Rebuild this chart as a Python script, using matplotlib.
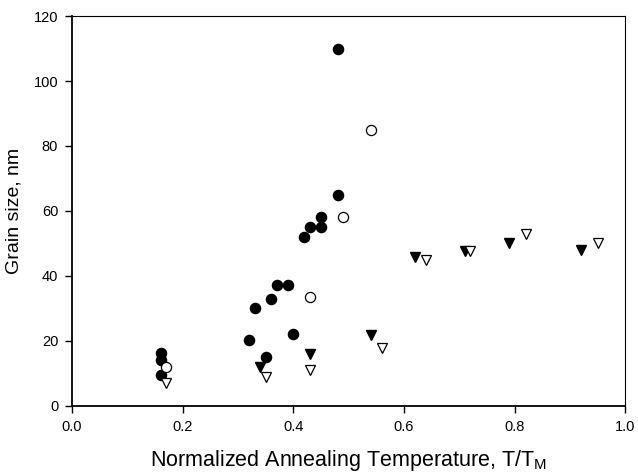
import matplotlib
matplotlib.use('Agg')
from matplotlib import pyplot as plt

plt.rcParams['font.family'] = ['Liberation Sans', 'DejaVu Sans']

# filled circles
fc_x = [0.16, 0.16, 0.16, 0.32, 0.33, 0.35, 0.36, 0.37, 0.39, 0.40, 0.42, 0.43, 0.45, 0.45, 0.48, 0.48]
fc_y = [16.2, 14.2, 9.5, 20.2, 30, 15, 33, 37.2, 37.2, 22, 52, 55, 58, 55, 65, 110]

# open circles
oc_x = [0.17, 0.43, 0.49, 0.54]
oc_y = [12, 33.4, 58, 85]

# filled triangles
ft_x = [0.34, 0.43, 0.54, 0.62, 0.71, 0.79, 0.92]
ft_y = [11.9, 16, 21.8, 45.9, 47.8, 50, 48]

# open triangles
ot_x = [0.17, 0.35, 0.43, 0.56, 0.64, 0.72, 0.82, 0.95]
ot_y = [7, 8.8, 10.9, 17.7, 44.9, 47.8, 52.9, 50]

fig = plt.figure(figsize=(6.38, 4.73), dpi=100)
ax = fig.add_axes([0.113, 0.142, 0.867, 0.824])

ax.plot(fc_x, fc_y, 'o', color='black', markersize=7.3, linestyle='none')
ax.plot(oc_x, oc_y, 'o', markerfacecolor='white', markeredgecolor='black',
        markersize=7.3, markeredgewidth=0.9, linestyle='none')
ax.plot(ft_x, ft_y, 'v', color='black', markersize=7.5, linestyle='none')
ax.plot(ot_x, ot_y, 'v', markerfacecolor='white', markeredgecolor='black',
        markersize=7.5, markeredgewidth=0.9, linestyle='none')

ax.set_xlim(0, 1.0)
ax.set_ylim(0, 120)
ax.set_xticks([0.0, 0.2, 0.4, 0.6, 0.8, 1.0])
ax.set_yticks([0, 20, 40, 60, 80, 100, 120])
ax.set_xticklabels(['0.0', '0.2', '0.4', '0.6', '0.8', '1.0'])
ax.tick_params(direction='out', length=5, width=1, labelsize=10.5, pad=5,
               top=False, right=False)

ax.spines['left'].set_linewidth(1.3)
ax.spines['bottom'].set_linewidth(1.3)
ax.spines['top'].set_linewidth(0.8)
ax.spines['right'].set_linewidth(0.8)

ax.set_xlabel('Normalized Annealing Temperature, T/T$_\\mathregular{M}$', fontsize=15.5, labelpad=10)
ax.set_ylabel('Grain size, nm', fontsize=14, labelpad=8)

plt.savefig('out.png', dpi=100)
